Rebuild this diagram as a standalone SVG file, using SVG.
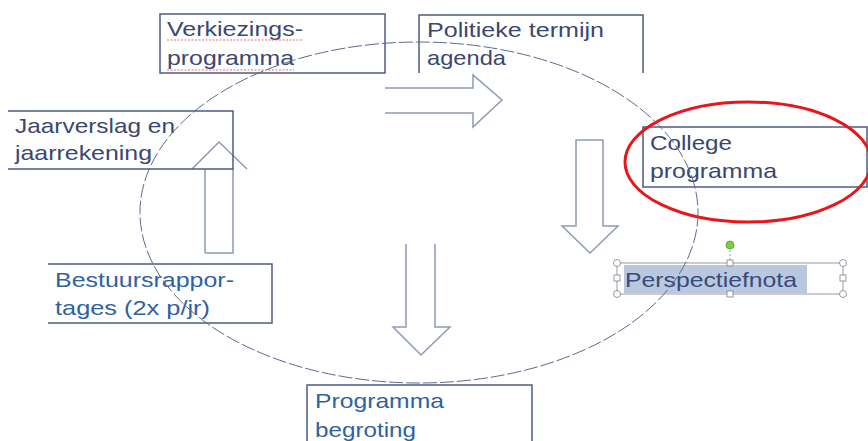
<svg xmlns="http://www.w3.org/2000/svg" width="868" height="441" viewBox="0 0 868 441">
<style>
.bx{fill:none;stroke:#4f5b80;stroke-width:1.5}
.ar{fill:none;stroke:#8e9ab4;stroke-width:1.5;stroke-linejoin:miter}
.t{font-family:"Liberation Sans",Arial,sans-serif;font-size:21px;fill:#3b4770}
.tb{font-family:"Liberation Sans",Arial,sans-serif;font-size:21px;fill:#2f62a0}
.sq{fill:none;stroke:#e07070;stroke-width:1;stroke-dasharray:2 1.5}
.h{fill:#fff;stroke:#7a8090;stroke-width:0.8}
</style>
<rect width="868" height="441" fill="#fff"/>
<g id="connectors">
<path class="ar" d="M385,88 H473 V75 L502,100 L473,127 V113 H385"/>
<path class="ar" d="M576,140 H603 V226 H618 L590,253 L562,226 H576 Z"/>
<path class="ar" d="M406,244 V327 H393 L421,355 L450,327 H435 V244"/>
<path class="ar" d="M205,253 V169 M233,169 V253 H205 M192,169 L219,142 L247,169"/>
</g>
<g id="verkiezings">
<rect class="bx" x="160" y="14" width="225" height="59"/>
<text class="t" x="167" y="36" textLength="136" lengthAdjust="spacingAndGlyphs">Verkiezings-</text>
<text class="t" x="167" y="65" textLength="127" lengthAdjust="spacingAndGlyphs">programma</text>
<path class="sq" d="M167,40 H303 M167,70 H294"/>
</g>
<g id="politieke">
<path class="bx" d="M419,73 V15 H643 V73"/>
<text class="t" x="427" y="37" textLength="177" lengthAdjust="spacingAndGlyphs">Politieke termijn</text>
<text class="t" x="427" y="65" textLength="79" lengthAdjust="spacingAndGlyphs">agenda</text>
</g>
<g id="jaarverslag">
<path class="bx" d="M8,111 H233 V169 H8"/>
<text class="t" x="15" y="133" textLength="160" lengthAdjust="spacingAndGlyphs">Jaarverslag en</text>
<text class="t" x="15" y="160" textLength="137" lengthAdjust="spacingAndGlyphs">jaarrekening</text>
</g>
<g id="college">
<rect class="bx" x="643" y="127" width="224" height="60"/>
<text class="t" x="650" y="150" textLength="82" lengthAdjust="spacingAndGlyphs">College</text>
<text class="t" x="650" y="178" textLength="127" lengthAdjust="spacingAndGlyphs">programma</text>
<ellipse cx="748" cy="162" rx="123" ry="60" fill="none" stroke="#e8161b" stroke-width="3"/>
</g>
<g id="perspectiefnota">
<rect x="624" y="265" width="183" height="28" fill="#b9c8de"/>
<rect x="617" y="263" width="226" height="31" fill="none" stroke="#7a8090" stroke-width="0.8"/>
<line x1="730" y1="246" x2="730" y2="263" stroke="#7a8090" stroke-width="0.8" stroke-dasharray="2 2"/>
<circle cx="730" cy="245" r="4" fill="#7ccf3c" stroke="#5a9a2a" stroke-width="0.8"/>
<circle class="h" cx="617" cy="263" r="3.5"/>
<circle class="h" cx="843" cy="263" r="3.5"/>
<circle class="h" cx="617" cy="294" r="3.5"/>
<circle class="h" cx="843" cy="294" r="3.5"/>
<rect class="h" x="727" y="260" width="6" height="6"/>
<rect class="h" x="727" y="291" width="6" height="6"/>
<rect class="h" x="614" y="275" width="6" height="6"/>
<rect class="h" x="840" y="275" width="6" height="6"/>
<text class="t" x="625" y="287" textLength="172" lengthAdjust="spacingAndGlyphs" style="fill:#3a4a7a">Perspectiefnota</text>
</g>
<g id="bestuurs">
<path class="bx" d="M48,264 H272 V323 H48"/>
<text class="tb" x="55" y="287" textLength="179" lengthAdjust="spacingAndGlyphs">Bestuursrappor-</text>
<text class="tb" x="55" y="315" textLength="155" lengthAdjust="spacingAndGlyphs">tages (2x p/jr)</text>
</g>
<g id="programma">
<path class="bx" d="M307,445 V385 H532 V445"/>
<text class="tb" x="315" y="408" textLength="129" lengthAdjust="spacingAndGlyphs">Programma</text>
<text class="tb" x="315" y="437" textLength="101" lengthAdjust="spacingAndGlyphs">begroting</text>
</g>
<ellipse id="cycle" cx="419" cy="212.5" rx="279" ry="170.5" fill="none" stroke="#5d6a8c" stroke-width="1" stroke-dasharray="14 3"/>
</svg>
